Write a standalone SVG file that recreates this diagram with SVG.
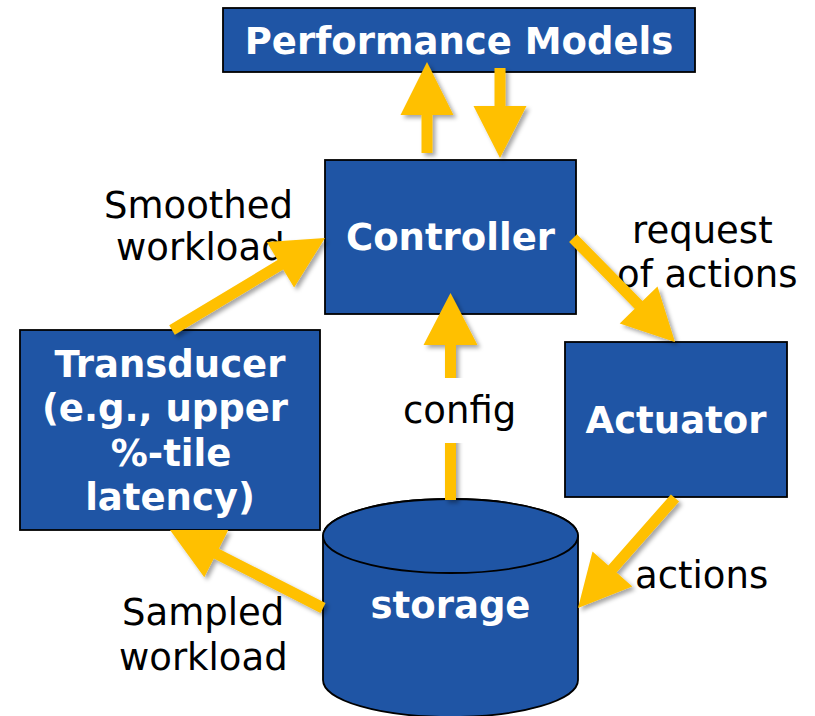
<svg xmlns="http://www.w3.org/2000/svg" width="815" height="716" viewBox="0 0 815 716">
  <defs>
    <filter id="shadow" x="-20%" y="-20%" width="140%" height="140%">
      <feGaussianBlur in="SourceAlpha" stdDeviation="2.2"/>
      <feOffset dx="3" dy="3" result="blur"/>
      <feFlood flood-color="#000" flood-opacity="0.35"/>
      <feComposite in2="blur" operator="in"/>
      <feMerge>
        <feMergeNode/>
        <feMergeNode in="SourceGraphic"/>
      </feMerge>
    </filter>
  </defs>
  <style>
    .box { fill: #1f55a5; stroke: #000; stroke-width: 1.8; }
    .title { font-family: "DejaVu Sans", Verdana, sans-serif; font-weight: bold; font-size: 37px; fill: #fff; text-anchor: middle; }
    .label { font-family: "DejaVu Sans", Verdana, sans-serif; font-size: 37px; fill: #000; }
    .arrow { fill: #ffc000; filter: url(#shadow); }
  </style>

  <rect width="815" height="716" fill="#fff"/>

  <g id="performance-models">
    <rect class="box" x="223" y="8" width="472" height="64"/>
    <text class="title" x="459" y="54">Performance Models</text>
  </g>

  <g id="controller">
    <rect class="box" x="325" y="160" width="251" height="154"/>
    <text class="title" x="450.5" y="250">Controller</text>
  </g>

  <g id="transducer">
    <rect class="box" x="20" y="330" width="300" height="200"/>
    <text class="title" x="170" y="377">Transducer</text>
    <text class="title" x="165" y="421">(e.g., upper</text>
    <text class="title" x="171" y="466">%-tile</text>
    <text class="title" x="170" y="510">latency)</text>
  </g>

  <g id="actuator">
    <rect class="box" x="565" y="342" width="222" height="155"/>
    <text class="title" x="676" y="433">Actuator</text>
  </g>

  <g id="storage">
    <path class="box" d="M323,536 L323,680 A127.5,37 0 0 0 578,680 L578,536 A127.5,37 0 0 0 323,536 Z"/>
    <ellipse class="box" cx="450.5" cy="536" rx="127.5" ry="37"/>
    <text class="title" x="450.5" y="618">storage</text>
  </g>

  <g id="edge-labels">
    <text class="label" x="104" y="218">Smoothed</text>
    <text class="label" x="116" y="260">workload</text>
    <text class="label" x="632" y="243">request</text>
    <text class="label" x="617" y="287">of actions</text>
    <text class="label" x="635" y="588">actions</text>
    <text class="label" x="122" y="625">Sampled</text>
    <text class="label" x="119" y="670">workload</text>
  </g>

  <g id="connectors">
    <!-- controller -> performance models -->
    <polygon class="arrow" points="421.5,153 421.5,115 400.5,115 427,62 453.5,115 432.5,115 432.5,153"/>
    <!-- performance models -> controller -->
    <polygon class="arrow" points="494.5,68 494.5,106 473.5,106 500,158 526.5,106 505.5,106 505.5,68"/>
    <!-- storage -> controller (config) -->
    <polygon class="arrow" points="445,500 445,345 423.5,345 450.5,293 477.5,345 456,345 456,500"/>
    <!-- transducer -> controller -->
    <polygon class="arrow" points="169.2,325.3 277.6,260.1 266.7,242.1 325,238 294.1,287.5 283.2,269.5 174.8,334.7"/>
    <!-- controller -> actuator -->
    <polygon class="arrow" points="576.9,234.2 642.5,301.1 657.5,286.4 675,342 619.7,323.5 634.7,308.8 569.1,241.9"/>
    <!-- actuator -> storage -->
    <polygon class="arrow" points="679.1,501.6 616.5,572.6 632.3,586.5 578,608 592.5,551.5 608.3,565.4 670.9,494.4"/>
    <!-- storage -> transducer -->
    <polygon class="arrow" points="325.5,603.1 218.8,548.7 228.3,530 170,530 204.3,577.2 213.8,558.5 320.5,612.9"/>
  </g>

  <g id="config-label">
    <rect x="402" y="378" width="114" height="65" fill="#fff"/>
    <text class="label" x="403" y="423">config</text>
  </g>
</svg>
